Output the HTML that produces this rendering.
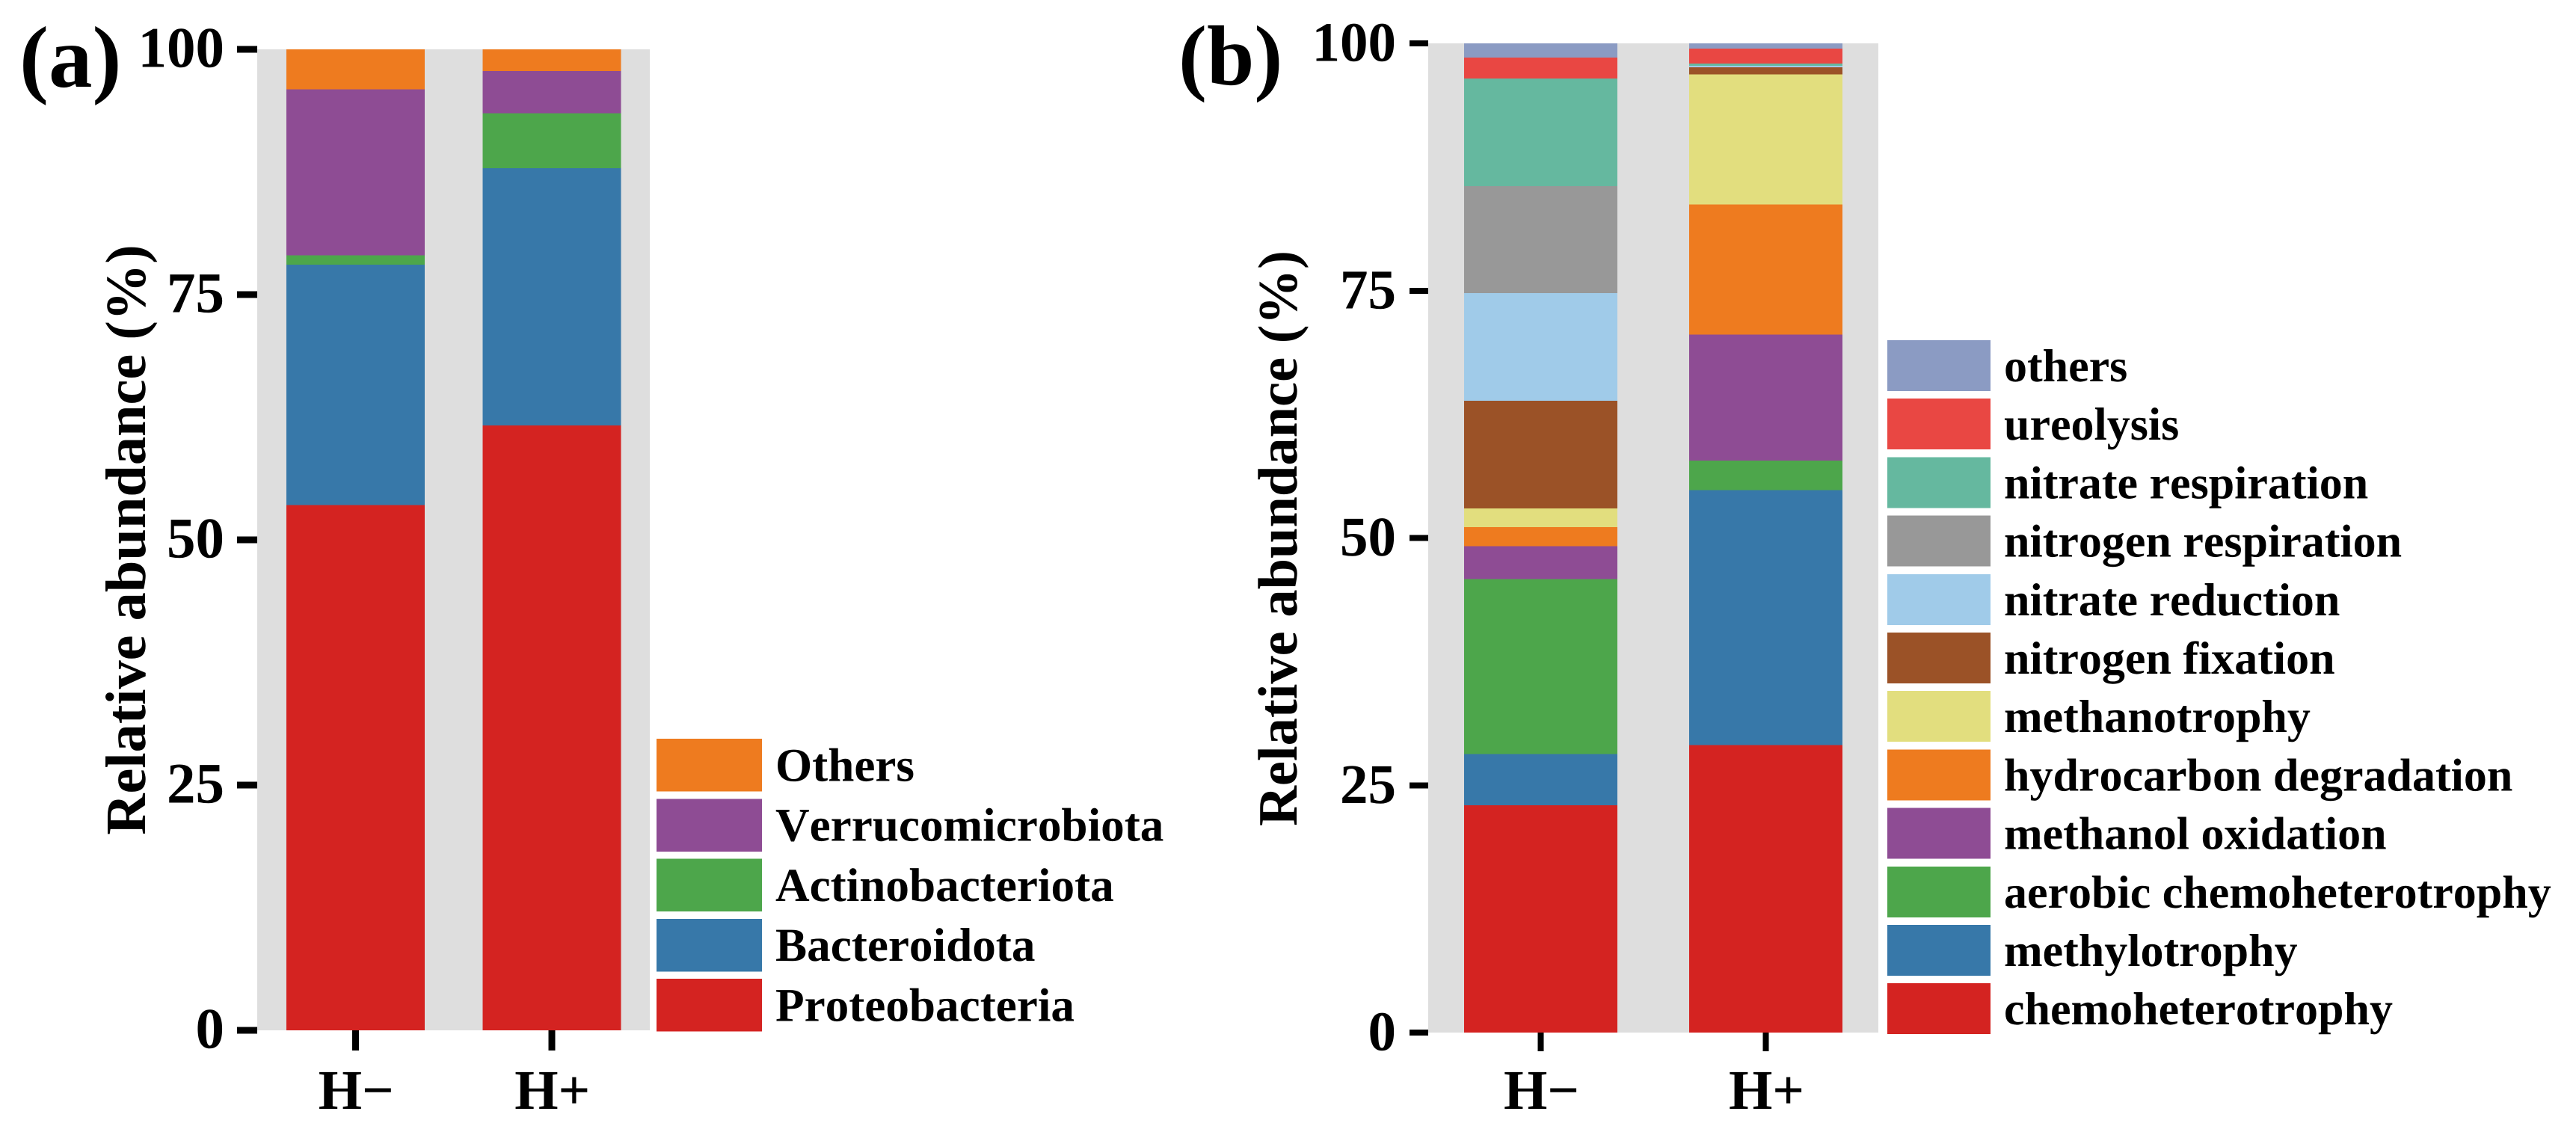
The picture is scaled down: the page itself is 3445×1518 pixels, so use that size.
<!DOCTYPE html>
<html lang="en">
<head>
<meta charset="utf-8">
<title>Relative abundance stacked bars</title>
<style>
html,body{margin:0;padding:0;background:#fff;}
#chart{display:block;width:3445px;height:1518px;}
text{font-family:"Liberation Serif",serif;font-weight:bold;fill:#000;font-kerning:none;text-rendering:geometricPrecision;}
</style>
</head>
<body>
<svg id="chart" xmlns="http://www.w3.org/2000/svg" width="3445" height="1518" viewBox="0 0 3445 1518">
  <rect x="0" y="0" width="3445" height="1518" fill="#fff"/>
  <g id="panel-a"></g>
  <g id="panel-b"></g>
</svg>
<script>
// Shared categories and ticks
const categories = ["H\u2212", "H+"];
const yTickValues = [0, 25, 50, 75, 100];

// Panel (a): phyla, bottom to top
const seriesNamesA = ["Proteobacteria", "Bacteroidota", "Actinobacteriota", "Verrucomicrobiota", "Others"];
const seriesColorsA = ["#d42321", "#3778a9", "#4da64b", "#8e4c94", "#ee7b1f"];
const valuesHMinusA = [53.56, 24.50, 0.96, 16.92, 4.06];
const valuesHPlusA = [61.66, 26.22, 5.62, 4.28, 2.22];

// Panel (b): functions, bottom to top
const seriesNamesB = ["chemoheterotrophy", "methylotrophy", "aerobic chemoheterotrophy", "methanol oxidation", "hydrocarbon degradation", "methanotrophy", "nitrogen fixation", "nitrate reduction", "nitrogen respiration", "nitrate respiration", "ureolysis", "others"];
const seriesColorsB = ["#d42321", "#3778a9", "#4da64b", "#8e4c94", "#ee7b1f", "#e2de7e", "#9b5227", "#a0cbe9", "#989898", "#65b89f", "#e94743", "#8b9bc3"];
const valuesHMinusB = [22.98, 5.19, 17.68, 3.31, 1.94, 1.90, 10.88, 10.88, 10.81, 10.88, 2.12, 1.43];
const valuesHPlusB = [29.05, 25.79, 3.00, 12.71, 13.15, 13.18, 0.70, 0.15, 0.00, 0.23, 1.51, 0.53];

const SVG_NS = "http://www.w3.org/2000/svg";

function makeEl(tag, attrs, parent) {
  const el = document.createElementNS(SVG_NS, tag);
  for (const k in attrs) el.setAttribute(k, attrs[k]);
  parent.appendChild(el);
  return el;
}

function drawPanel(root, cfg) {
  const yScale = v => cfg.bottom - (v / 100) * (cfg.bottom - cfg.top);
  const step = (cfg.right - cfg.left) / categories.length;
  const xCenter = i => cfg.left + step * (i + 0.5);

  // Panel background
  const bg = makeEl("rect", {x: cfg.left, y: cfg.top, width: cfg.right - cfg.left, height: cfg.bottom - cfg.top, fill: "#dedede", "shape-rendering": "crispEdges"}, root);
  
  

  // Stacked bars
  cfg.columns.forEach((vals, c) => {
    let cum = 0;
    vals.forEach((v, s) => {
      const y1 = yScale(cum + v);
      const y0 = yScale(cum);
      cum += v;
      const seg = makeEl("rect", {x: xCenter(c) - cfg.barWidth / 2, y: y1, width: cfg.barWidth, height: Math.max(0, y0 - y1), fill: cfg.colors[s], "shape-rendering": "crispEdges"}, root);
      
      
      seg.setAttribute('data-series', cfg.names[s]);
      seg.setAttribute('data-category', categories[c]);
    });
  });

  // Y axis ticks and labels
  yTickValues.forEach(t => {
    const tick = makeEl("rect", {x: cfg.left - cfg.tickLen, y: yScale(t) - cfg.tickW / 2, width: cfg.tickLen, height: cfg.tickW, fill: "#000", "shape-rendering": "crispEdges"}, root);
    
    
    const lab = makeEl("text", {x: cfg.tickLabelX, y: yScale(t) + 23.5, "text-anchor": "end", "font-size": cfg.tickFont}, root);
    lab.textContent = String(t);
    
    
  });

  // X axis ticks and labels
  categories.forEach((name, i) => {
    const tick = makeEl("rect", {x: xCenter(i) - cfg.tickW / 2, y: cfg.bottom, width: cfg.tickW, height: cfg.tickLen, fill: "#000", "shape-rendering": "crispEdges"}, root);
    
    
    const lab = makeEl("text", {x: xCenter(i) + 1, y: 1483, "text-anchor": "middle", "font-size": 75}, root);
    lab.textContent = name;
    
    
  });

  // Y axis title
  const title = makeEl("text", {transform: "translate(" + cfg.titleX + " " + cfg.titleY + ") rotate(-90)", "text-anchor": "middle", "font-size": cfg.titleFont}, root);
  title.textContent = "Relative abundance (%)";
  
  

  // Panel tag
  const tag = makeEl("text", {x: cfg.tagX, y: cfg.tagY, "font-size": cfg.tagFont}, root);
  tag.textContent = cfg.tag;
  
  

  // Legend, top entry is the last series
  const count = cfg.names.length;
  cfg.names.forEach((name, s) => {
    const row = count - 1 - s;
    const yTop = cfg.legendTop + row * cfg.legendPitch;
    const sw = makeEl("rect", {x: cfg.legendX, y: yTop, width: cfg.legendW, height: cfg.legendH, fill: cfg.colors[s], "shape-rendering": "crispEdges"}, root);
    
    
    const lab = makeEl("text", {x: cfg.legendTextX, y: yTop + cfg.legendH / 2 + 21, "font-size": cfg.legendFont}, root);
    lab.textContent = name;
    
    
  });
}

drawPanel(document.getElementById("panel-a"), {
  left: 344, right: 869, top: 66, bottom: 1378, barWidth: 185,
  tickLen: 27, tickW: 9, tickFont: 77, tickLabelX: 300,
  titleX: 194, titleY: 722, titleFont: 76.4,
  tag: "(a)", tagX: 26, tagY: 116, tagFont: 117,
  columns: [valuesHMinusA, valuesHPlusA], names: seriesNamesA, colors: seriesColorsA,
  legendX: 878, legendW: 141, legendTop: 988, legendH: 70.5, legendPitch: 80.3,
  legendTextX: 1037, legendFont: 63.2
});

drawPanel(document.getElementById("panel-b"), {
  left: 1910, right: 2512, top: 58, bottom: 1381, barWidth: 205,
  tickLen: 25, tickW: 8, tickFont: 75, tickLabelX: 1867,
  titleX: 1734, titleY: 720, titleFont: 74.5,
  tag: "(b)", tagX: 1576, tagY: 113, tagFont: 114,
  columns: [valuesHMinusB, valuesHPlusB], names: seriesNamesB, colors: seriesColorsB,
  legendX: 2524, legendW: 138, legendTop: 455, legendH: 68, legendPitch: 78.2,
  legendTextX: 2680, legendFont: 62
});
</script>
</body>
</html>
